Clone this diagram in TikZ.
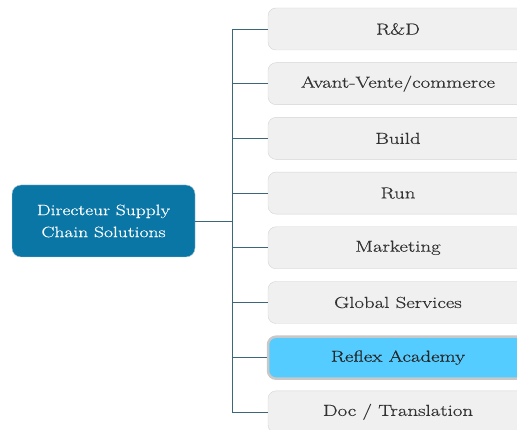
\documentclass[tikz,border=0pt]{standalone}
\usepackage{fontspec}
\setmainfont{Latin Modern Roman}[FakeStretch=1.3,FakeBold=0.5]
\usepackage{tikz}
\definecolor{rootfill}{RGB}{10,118,166}
\definecolor{rootline}{RGB}{175,200,212}
\definecolor{boxfill}{RGB}{240,240,240}
\definecolor{boxline}{RGB}{212,212,212}
\definecolor{pickfill}{RGB}{85,204,255}
\definecolor{pickline}{RGB}{200,200,200}
\definecolor{wire}{RGB}{60,102,122}
\definecolor{textgray}{RGB}{50,50,50}
\tikzstyle{root}=[draw=rootline,fill=rootfill,rounded corners=9pt,minimum width=183pt,minimum height=72pt,align=center,text=white,font=\fontsize{15}{22}\selectfont]
\tikzstyle{branch}=[draw=boxline,fill=boxfill,rounded corners=8pt,minimum width=260pt,minimum height=42pt,text=textgray,font=\fontsize{16}{19}\selectfont]
\tikzstyle{pick}=[branch,draw=pickline,line width=2.5pt,fill=pickfill,text=black!85]
\tikzstyle{link}=[draw=wire,line width=.8pt]
\begin{document}
\begin{tikzpicture}[x=1pt,y=-1pt]
	\useasboundingbox (0,0) rectangle (517,430);
	\clip (0,0) rectangle (517,430);
	\node[root] (dir) at (103.5,221) {Directeur Supply\\Chain Solutions};
	\coordinate (trunk) at (232,221);
	\node[branch] (rd)    at (398,29)    {R\&D};
	\node[branch] (avv)   at (398,83.7)  {Avant-Vente/commerce};
	\node[branch] (build) at (398,138.4) {Build};
	\node[branch] (run)   at (398,193.1) {Run};
	\node[branch] (mkt)   at (398,247.8) {Marketing};
	\node[branch] (gs)    at (398,302.5) {Global Services};
	\node[pick]   (ra)    at (398,357.7) {Reflex Academy};
	\node[branch] (doc)   at (398,411.9) {Doc / Translation};
	\draw[link] (dir) -- (trunk);
	\draw[link] (trunk) |- (rd);
	\draw[link] (trunk) |- (avv);
	\draw[link] (trunk) |- (build);
	\draw[link] (trunk) |- (run);
	\draw[link] (trunk) |- (mkt);
	\draw[link] (trunk) |- (gs);
	\draw[link] (trunk) |- (ra);
	\draw[link] (trunk) |- (doc);
\end{tikzpicture}
\end{document}
